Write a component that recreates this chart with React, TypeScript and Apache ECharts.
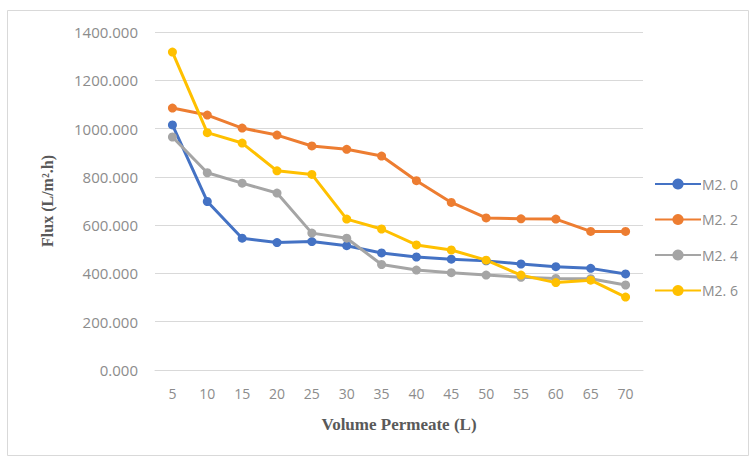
import React, { useEffect, useRef } from "react";
import * as echarts from "echarts";

const volumes = ["5", "10", "15", "20", "25", "30", "35", "40", "45", "50", "55", "60", "65", "70"];
const m20 = [1015, 698, 546, 528, 532, 515, 485, 468, 459, 452, 439, 428, 421, 398];
const m22 = [1085, 1056, 1002, 973, 928, 914, 886, 784, 694, 630, 626, 625, 574, 574];
const m24 = [965, 817, 774, 733, 567, 546, 437, 414, 403, 393, 384, 379, 378, 352];
const m26 = [1317, 983, 940, 825, 810, 625, 584, 518, 497, 455, 393, 362, 372, 302];
const seriesNames = ["M2. 0", "M2. 2", "M2. 4", "M2. 6"];
const seriesColors = ["#4472C4", "#ED7D31", "#A5A5A5", "#FFC000"];

export default function App() {
  const ref = useRef<HTMLDivElement>(null);
  useEffect(() => {
    if (!ref.current) return;
    const chart = echarts.init(ref.current, undefined, { renderer: "svg" });
    const data = [m20, m22, m24, m26];
    chart.setOption({
      animation: false,
      backgroundColor: "#ffffff",
      graphic: [
        {
          type: "rect",
          shape: { x: 7.5, y: 10.5, width: 741, height: 445 },
          style: { fill: "none", stroke: "#d9d9d9", lineWidth: 1 },
          z: -1,
        },
      ],
      grid: { left: 155, right: 113, top: 32, bottom: 88 },
      legend: {
        orient: "vertical",
        left: 649,
        top: 172,
        itemGap: 21.5,
        itemWidth: 46,
        itemHeight: 14,
        data: seriesNames,
        textStyle: { color: "#8c8c8c", fontSize: 14, fontFamily: "Open Sans", padding: [0, 0, 0, -4] },
      },
      xAxis: {
        type: "category",
        data: volumes,
        boundaryGap: true,
        name: "Volume Permeate (L)",
        nameLocation: "middle",
        nameGap: 46,
        nameTextStyle: {
          fontFamily: "Liberation Serif",
          fontWeight: "bold",
          fontSize: 17,
          color: "#595959",
        },
        axisLine: { show: true, lineStyle: { color: "#d9d9d9", width: 1 } },
        axisTick: { show: false },
        axisLabel: { color: "#8c8c8c", fontSize: 14, fontFamily: "Open Sans", margin: 16 },
      },
      yAxis: {
        type: "value",
        min: 0,
        max: 1400,
        interval: 200,
        name: "Flux (L/m².h)",
        nameLocation: "middle",
        nameGap: 100,
        nameTextStyle: {
          fontFamily: "Liberation Serif",
          fontWeight: "bold",
          fontSize: 16,
          color: "#595959",
        },
        axisLine: { show: false },
        axisTick: { show: false },
        splitLine: { lineStyle: { color: "#d9d9d9", width: 1 } },
        axisLabel: {
          color: "#8c8c8c",
          fontSize: 15,
          fontFamily: "Open Sans",
          margin: 17,
          formatter: (v: number) => v.toFixed(3),
        },
      },
      series: data.map((d, i) => ({
        name: seriesNames[i],
        type: "line",
        data: d,
        color: seriesColors[i],
        lineStyle: { width: 3, color: seriesColors[i] },
        itemStyle: { color: seriesColors[i] },
        symbol: "circle",
        symbolSize: 9,
      })),
    });
    return () => chart.dispose();
  }, []);
  return (
    <div
      ref={ref}
      style={{ position: "fixed", left: 0, top: 0, width: 756, height: 458 }}
    />
  );
}
